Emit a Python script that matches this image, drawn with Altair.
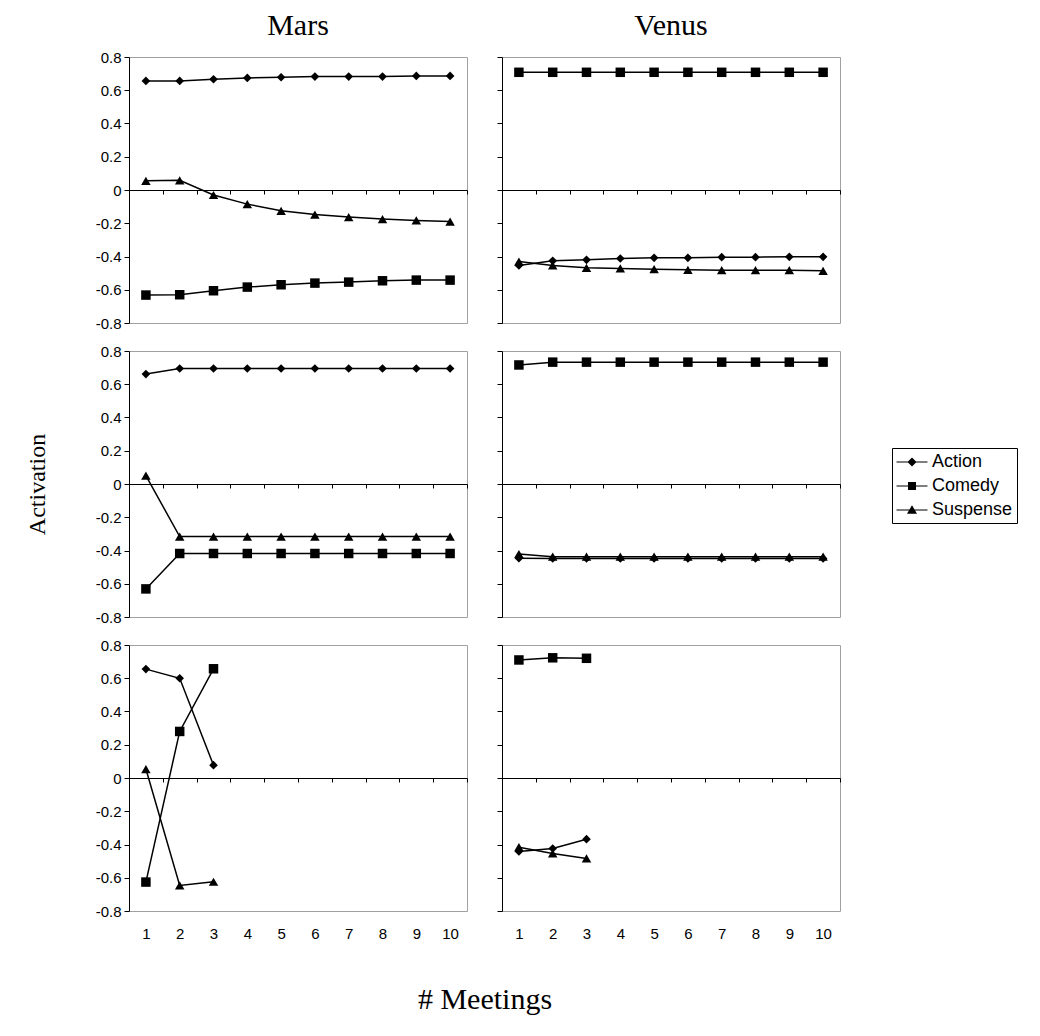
import altair as alt
import pandas as pd

SERIES = ["Action", "Comedy", "Suspense"]
MEETINGS = list(range(1, 11))
Y_TICKS = [-0.8, -0.6, -0.4, -0.2, 0, 0.2, 0.4, 0.6, 0.8]
X_LABELS = list(range(1, 11))
X_TICKS = [0.5, 1.5, 2.5, 3.5, 4.5, 5.5, 6.5, 7.5, 8.5, 9.5, 10.5]
COLUMNS = ["Mars", "Venus"]

# Row 1
mars1_action = [0.656, 0.656, 0.666, 0.674, 0.678, 0.682, 0.682, 0.682, 0.686, 0.686]
mars1_comedy = [-0.632, -0.630, -0.606, -0.584, -0.570, -0.560, -0.554, -0.546, -0.542, -0.542]
mars1_suspense = [0.055, 0.058, -0.030, -0.085, -0.125, -0.148, -0.163, -0.175, -0.183, -0.190]
venus1_action = [-0.454, -0.426, -0.420, -0.412, -0.408, -0.408, -0.404, -0.404, -0.402, -0.402]
venus1_comedy = [0.708, 0.708, 0.708, 0.708, 0.708, 0.708, 0.708, 0.708, 0.708, 0.708]
venus1_suspense = [-0.430, -0.454, -0.468, -0.472, -0.476, -0.480, -0.482, -0.482, -0.482, -0.486]

# Row 2
mars2_action = [0.661, 0.695, 0.695, 0.695, 0.695, 0.695, 0.695, 0.695, 0.695, 0.695]
mars2_comedy = [-0.631, -0.418, -0.418, -0.418, -0.418, -0.418, -0.418, -0.418, -0.418, -0.418]
mars2_suspense = [0.050, -0.316, -0.316, -0.316, -0.316, -0.316, -0.316, -0.316, -0.316, -0.316]
venus2_action = [-0.446, -0.448, -0.448, -0.448, -0.448, -0.448, -0.448, -0.448, -0.448, -0.448]
venus2_comedy = [0.716, 0.733, 0.733, 0.733, 0.733, 0.733, 0.733, 0.733, 0.733, 0.733]
venus2_suspense = [-0.421, -0.437, -0.437, -0.437, -0.437, -0.437, -0.437, -0.437, -0.437, -0.437]

# Row 3
mars3_action = [0.655, 0.600, 0.077]
mars3_comedy = [-0.626, 0.280, 0.657]
mars3_suspense = [0.054, -0.646, -0.624]
venus3_action = [-0.442, -0.424, -0.368]
venus3_comedy = [0.710, 0.723, 0.720]
venus3_suspense = [-0.416, -0.454, -0.484]

SHAPES = ["diamond", "square", "triangle-up"]
SIZES = [75, 90, 90]
LEGEND_PATHS = [
    "M-1.55,-0.06H1.55V0.06H-1.55Z M0,-0.45L0.45,0L0,0.45L-0.45,0Z",
    "M-1.55,-0.06H1.55V0.06H-1.55Z M-0.4,-0.4H0.4V0.4H-0.4Z",
    "M-1.55,-0.06H1.55V0.06H-1.55Z M0,-0.48L0.5,0.38H-0.5Z",
]

W, H = 338, 266
SANS = "Liberation Sans"
SERIF = "Liberation Serif"


def frame(action, comedy, suspense):
    rows = []
    for name, vals in zip(SERIES, [action, comedy, suspense]):
        for m, v in zip(MEETINGS, vals):
            rows.append({"meeting": m, "series": name, "value": v})
    return pd.DataFrame(rows)


def panel(df, left, bottom, ytitle=None, xtitle=None, title=None, title_offset=10, legend=False):
    xscale = alt.Scale(domain=[0.5, 10.5], nice=False, zero=False)
    yscale = alt.Scale(domain=[-0.8, 0.8], nice=False, zero=False)
    ykw = dict(values=Y_TICKS, labels=left, labelExpr="'' + datum.value",
               labelFont=SANS, labelFontSize=15, labelColor="black",
               domainColor="black", tickColor="black", tickSize=5,
               labelPadding=3, grid=False)
    if ytitle:
        ykw.update(title=ytitle, titleFont=SERIF, titleFontSize=24,
                   titleFontWeight="normal", titleColor="black", titlePadding=46)
    else:
        ykw.update(title=None)
    yaxis = alt.Axis(**ykw)
    tick_axis = alt.Axis(orient="bottom", offset=-H / 2, values=X_TICKS, labels=False,
                         tickSize=4, tickColor="black", domainColor="black",
                         grid=False, title=None)
    lkw = dict(orient="bottom", values=X_LABELS, labels=True, ticks=False, domain=False,
               grid=False, labelFont=SANS, labelFontSize=15, labelColor="black",
               labelPadding=15, format="d")
    if xtitle:
        lkw.update(title=xtitle, titleX=W + 17.5, titleFont=SERIF, titleFontSize=30,
                   titleFontWeight="normal", titleColor="black", titlePadding=43)
    else:
        lkw.update(title=None)
    label_axis = alt.Axis(**lkw)

    line = alt.Chart(df).mark_line(color="black", strokeWidth=1.5).encode(
        x=alt.X("meeting:Q", scale=xscale, axis=tick_axis),
        y=alt.Y("value:Q", scale=yscale, axis=yaxis),
        detail="series:N",
    )
    layers = [line]
    for i, (name, shp, sz) in enumerate(zip(SERIES, SHAPES, SIZES)):
        xaxis = label_axis if (bottom and i == 0) else None
        layers.append(
            alt.Chart(df).transform_filter(alt.datum.series == name)
            .mark_point(filled=True, color="black", opacity=1, shape=shp, size=sz)
            .encode(
                x=alt.X("meeting:Q", scale=xscale, axis=xaxis),
                y=alt.Y("value:Q", scale=yscale, axis=yaxis),
            )
        )
    if legend:
        leg = alt.Legend(orient="none", legendX=390, legendY=97, title=None,
                         labelFont=SANS, labelFontSize=18, labelColor="black",
                         strokeColor="black", fillColor="white", padding=4,
                         rowPadding=5, symbolSize=400, symbolOffset=6, labelOffset=10,
                         symbolFillColor="black", symbolStrokeWidth=0, symbolOpacity=1)
        layers.append(
            alt.Chart(df).transform_filter("false")
            .mark_point(filled=True, color="black", opacity=1)
            .encode(shape=alt.Shape("series:N",
                                    scale=alt.Scale(domain=SERIES, range=LEGEND_PATHS),
                                    legend=leg))
        )
    props = dict(width=W, height=H)
    if title:
        props["title"] = alt.TitleParams(text=title, font=SERIF, fontSize=30,
                                         fontWeight="normal", color="black",
                                         anchor="middle", frame="group", offset=title_offset)
    return alt.layer(*layers).resolve_axis(x="independent").properties(**props)


p11 = panel(frame(mars1_action, mars1_comedy, mars1_suspense), True, False,
            title=COLUMNS[0], title_offset=9)
p12 = panel(frame(venus1_action, venus1_comedy, venus1_suspense), False, False,
            title=COLUMNS[1], title_offset=16)
p21 = panel(frame(mars2_action, mars2_comedy, mars2_suspense), True, False, ytitle="Activation")
p22 = panel(frame(venus2_action, venus2_comedy, venus2_suspense), False, False, legend=True)
p31 = panel(frame(mars3_action, mars3_comedy, mars3_suspense), True, True, xtitle="# Meetings")
p32 = panel(frame(venus3_action, venus3_comedy, venus3_suspense), False, True)

chart = (
    alt.concat(p11, p12, p21, p22, p31, p32, columns=2,
               spacing=alt.RowColnumber(row=28, column=35), bounds="flush")
    .resolve_scale(shape="independent")
    .resolve_legend(shape="independent")
    .properties(background="white", padding={"left": 16, "top": 2, "right": 5, "bottom": 5})
    .configure_view(stroke="#a0a0a0", strokeWidth=1)
)

chart.save("out.html", embed_options={"renderer": "svg", "actions": False})
